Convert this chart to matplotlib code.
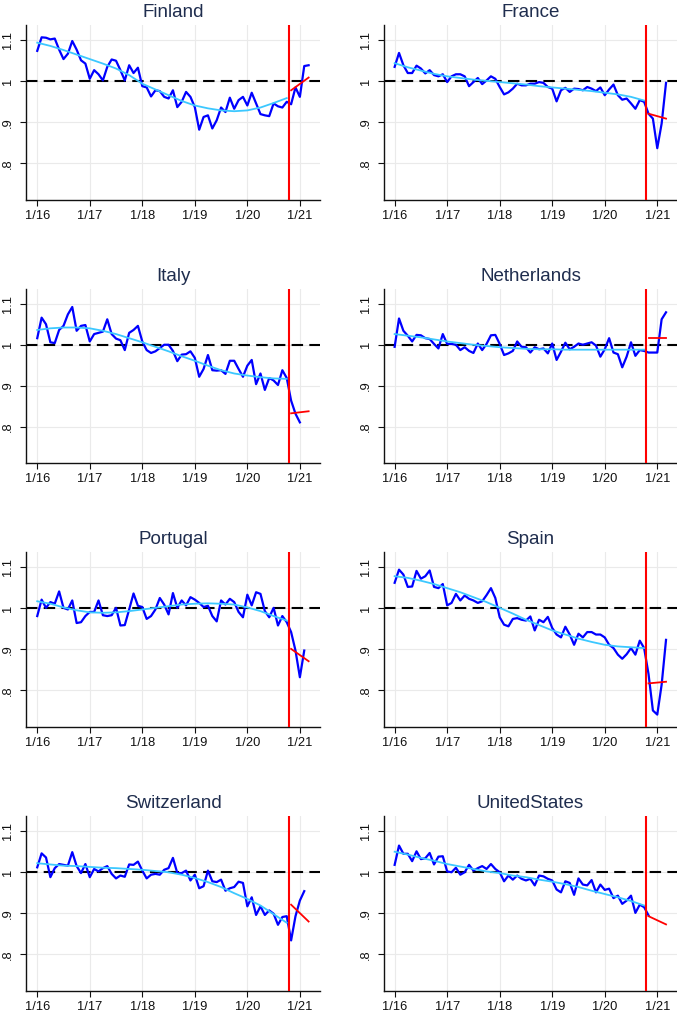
import numpy as np
import matplotlib
matplotlib.use("Agg")
import matplotlib.pyplot as plt

plt.rcParams['font.family'] = ['Liberation Sans', 'DejaVu Sans']

# monthly index, 0 = 1/2016
countries = ["Finland", "France", "Italy", "Netherlands",
             "Portugal", "Spain", "Switzerland", "UnitedStates"]

finland = [1.074, 1.107, 1.106, 1.102, 1.104, 1.077, 1.054, 1.067, 1.098, 1.077,
           1.051, 1.043, 1.006, 1.027, 1.017, 1.002, 1.035, 1.053, 1.050, 1.027,
           1.002, 1.039, 1.020, 1.033, 0.988, 0.985, 0.963, 0.978, 0.976, 0.962,
           0.958, 0.978, 0.937, 0.950, 0.974, 0.962, 0.937, 0.882, 0.913, 0.917,
           0.885, 0.905, 0.936, 0.925, 0.960, 0.933, 0.954, 0.962, 0.941, 0.972,
           0.946, 0.920, 0.917, 0.915, 0.946, 0.939, 0.936, 0.950, 0.944, 0.985,
           0.962, 1.037, 1.039]
france = [1.035, 1.069, 1.039, 1.020, 1.020, 1.038, 1.031, 1.019, 1.027, 1.015,
          1.012, 1.017, 0.998, 1.012, 1.017, 1.017, 1.012, 0.988, 0.998, 1.008,
          0.993, 1.002, 1.012, 1.006, 0.986, 0.968, 0.973, 0.982, 0.994, 0.990,
          0.990, 0.994, 0.994, 0.998, 0.996, 0.986, 0.982, 0.951, 0.978, 0.984,
          0.974, 0.982, 0.981, 0.978, 0.986, 0.982, 0.976, 0.985, 0.966, 0.980,
          0.992, 0.966, 0.955, 0.958, 0.946, 0.933, 0.954, 0.950, 0.921, 0.909,
          0.837, 0.897, 0.996]
italy = [1.016, 1.066, 1.050, 1.006, 1.004, 1.036, 1.046, 1.074, 1.092, 1.034,
         1.046, 1.048, 1.008, 1.026, 1.029, 1.032, 1.062, 1.026, 1.015, 1.011,
         0.987, 1.029, 1.036, 1.046, 1.008, 0.987, 0.980, 0.984, 0.992, 1.000,
         1.000, 0.985, 0.960, 0.976, 0.977, 0.984, 0.968, 0.922, 0.941, 0.975,
         0.938, 0.937, 0.938, 0.929, 0.961, 0.961, 0.941, 0.922, 0.949, 0.963,
         0.904, 0.930, 0.890, 0.919, 0.913, 0.902, 0.938, 0.919, 0.864, 0.832,
         0.811]
netherlands = [0.995, 1.064, 1.034, 1.022, 1.008, 1.024, 1.023, 1.016, 1.014, 1.002,
               0.991, 1.026, 1.002, 1.002, 1.000, 0.987, 0.994, 0.985, 0.980, 1.003,
               0.987, 1.002, 1.023, 1.024, 1.002, 0.975, 0.979, 0.985, 1.008, 0.995,
               0.994, 0.981, 0.994, 0.989, 0.991, 0.979, 1.003, 0.963, 0.983, 1.005,
               0.989, 0.995, 1.003, 1.000, 1.003, 1.006, 0.998, 0.971, 0.989, 1.016,
               0.981, 0.977, 0.945, 0.971, 1.006, 0.973, 0.987, 0.985, 0.981, 0.981,
               0.981, 1.062, 1.079]
portugal = [0.981, 1.021, 1.001, 1.015, 1.011, 1.041, 1.001, 0.997, 1.019, 0.964,
            0.966, 0.981, 0.991, 0.991, 1.019, 0.983, 0.981, 0.983, 1.001, 0.958,
            0.959, 0.997, 1.036, 1.006, 1.003, 0.974, 0.981, 0.997, 1.025, 1.009,
            0.985, 1.037, 1.001, 1.019, 1.007, 1.027, 1.021, 1.013, 1.003, 1.006,
            0.981, 0.968, 1.019, 1.009, 1.023, 1.015, 0.991, 0.978, 1.033, 1.007,
            1.039, 1.035, 0.993, 0.978, 1.001, 0.958, 0.981, 0.966, 0.942, 0.897,
            0.832, 0.897]
spain = [1.062, 1.094, 1.082, 1.052, 1.053, 1.091, 1.072, 1.078, 1.092, 1.052,
         1.049, 1.059, 1.007, 1.013, 1.035, 1.019, 1.031, 1.023, 1.019, 1.013,
         1.017, 1.032, 1.049, 1.025, 0.978, 0.960, 0.956, 0.974, 0.976, 0.972,
         0.970, 0.980, 0.946, 0.972, 0.966, 0.979, 0.952, 0.936, 0.929, 0.955,
         0.936, 0.911, 0.938, 0.929, 0.942, 0.942, 0.936, 0.936, 0.929, 0.911,
         0.903, 0.887, 0.877, 0.888, 0.903, 0.887, 0.921, 0.903, 0.840, 0.751,
         0.741, 0.814, 0.923]
switzerland = [1.012, 1.046, 1.036, 0.988, 1.010, 1.020, 1.018, 1.016, 1.049, 1.015,
               0.998, 1.020, 0.988, 1.008, 1.002, 1.010, 1.015, 0.996, 0.985, 0.992,
               0.989, 1.019, 1.018, 1.026, 1.004, 0.985, 0.994, 0.996, 0.994, 1.006,
               1.010, 1.035, 0.998, 0.998, 1.004, 0.980, 0.994, 0.961, 0.966, 1.004,
               0.978, 0.976, 0.982, 0.955, 0.961, 0.964, 0.977, 0.974, 0.917, 0.939,
               0.896, 0.917, 0.896, 0.907, 0.899, 0.872, 0.891, 0.893, 0.834, 0.893,
               0.931, 0.954]
usa = [1.018, 1.065, 1.045, 1.045, 1.027, 1.051, 1.032, 1.034, 1.047, 1.019,
       1.038, 1.039, 1.002, 1.000, 1.011, 0.994, 1.000, 1.018, 1.004, 1.010,
       1.015, 1.008, 1.020, 1.008, 1.000, 0.978, 0.992, 0.982, 0.992, 0.984,
       0.980, 0.984, 0.968, 0.992, 0.990, 0.984, 0.980, 0.958, 0.951, 0.978,
       0.974, 0.945, 0.985, 0.970, 0.968, 0.981, 0.951, 0.970, 0.957, 0.960,
       0.937, 0.943, 0.923, 0.931, 0.943, 0.901, 0.921, 0.915, 0.895]

# pre-period trend, read every 3 months (0, 3, ..., 57)
trend_months = list(range(0, 58, 3))
trend_finland = [1.094, 1.086, 1.076, 1.065, 1.054, 1.043, 1.031, 1.015, 0.994, 0.980,
                 0.966, 0.952, 0.941, 0.934, 0.929, 0.927, 0.929, 0.936, 0.947, 0.959]
trend_france = [1.044, 1.034, 1.026, 1.018, 1.012, 1.008, 1.004, 1.001, 0.998, 0.995,
                0.992, 0.988, 0.985, 0.982, 0.979, 0.976, 0.972, 0.968, 0.962, 0.953]
trend_italy = [1.036, 1.040, 1.042, 1.042, 1.040, 1.034, 1.026, 1.016, 1.006, 0.995,
               0.984, 0.972, 0.961, 0.949, 0.938, 0.930, 0.925, 0.921, 0.918, 0.917]
trend_netherlands = [1.026, 1.022, 1.018, 1.013, 1.008, 1.004, 1.000, 0.997, 0.994, 0.992,
                     0.990, 0.989, 0.989, 0.988, 0.988, 0.988, 0.988, 0.988, 0.988, 0.988]
trend_portugal = [1.017, 1.011, 1.002, 0.995, 0.990, 0.989, 0.990, 0.993, 0.997, 1.001,
                  1.005, 1.009, 1.011, 1.012, 1.011, 1.009, 1.002, 0.993, 0.981, 0.970]
trend_spain = [1.078, 1.074, 1.067, 1.059, 1.049, 1.039, 1.027, 1.015, 1.001, 0.987,
               0.972, 0.959, 0.946, 0.936, 0.926, 0.918, 0.911, 0.907, 0.905, 0.903]
trend_switzerland = [1.022, 1.019, 1.016, 1.015, 1.013, 1.011, 1.010, 1.008, 1.006, 1.003,
                     1.000, 0.994, 0.986, 0.976, 0.964, 0.949, 0.935, 0.919, 0.898, 0.877]
trend_usa = [1.050, 1.043, 1.035, 1.028, 1.020, 1.014, 1.008, 1.002, 0.998, 0.992,
             0.988, 0.982, 0.977, 0.971, 0.964, 0.955, 0.947, 0.939, 0.930, 0.919]

# post-period line: months 58 -> 62
post_months = [58, 62]
post_finland = [0.978, 1.009]
post_france = [0.921, 0.909]
post_italy = [0.833, 0.838]
post_netherlands = [1.016, 1.016]
post_portugal = [0.901, 0.871]
post_spain = [0.817, 0.821]
post_switzerland = [0.921, 0.880]
post_usa = [0.893, 0.873]

series = [finland, france, italy, netherlands, portugal, spain, switzerland, usa]
trends = [trend_finland, trend_france, trend_italy, trend_netherlands,
          trend_portugal, trend_spain, trend_switzerland, trend_usa]
posts = [post_finland, post_france, post_italy, post_netherlands,
         post_portugal, post_spain, post_switzerland, post_usa]

xtick_pos = [0, 12, 24, 36, 48, 60]
xtick_lab = ["1/16", "1/17", "1/18", "1/19", "1/20", "1/21"]
ytick_pos = [0.8, 0.9, 1.0, 1.1]
ytick_lab = [".8", ".9", "1", "1.1"]
break_month = 57.5

W, H = 677, 1015
fig = plt.figure(figsize=(W / 100, H / 100), dpi=100)

col_left = [26.3, 383.7]
row_top = [25, 288.5, 552, 816]
ax_w, ax_h = 293.7, 174.5

for i, name in enumerate(countries):
    r, c = divmod(i, 2)
    x0 = col_left[c]
    y0 = row_top[r]
    ax = fig.add_axes([x0 / W, 1 - (y0 + ax_h) / H, ax_w / W, ax_h / H])

    ax.set_xlim(-2.5, 64.6)
    ax.set_ylim(0.712, 1.137)
    ax.set_xticks(xtick_pos)
    ax.set_xticklabels(xtick_lab)
    ax.set_yticks(ytick_pos)
    ax.set_yticklabels(ytick_lab, rotation=90, va='center')
    ax.grid(True, color='#eaeaea', lw=0.8, zorder=0)
    ax.set_axisbelow(True)

    for s in ['top', 'right']:
        ax.spines[s].set_visible(False)
    for s in ['left', 'bottom']:
        ax.spines[s].set_linewidth(1.0)
        ax.spines[s].set_color('#111111')
    ax.tick_params(axis='x', length=4.2, width=0.8, pad=3, labelsize=9.3, colors='#111111')
    ax.tick_params(axis='y', length=4.3, width=0.8, pad=4.3, labelsize=9.3, colors='#111111')

    vals = series[i]
    ax.axhline(1, color='black', lw=1.5, dashes=(5.5, 3), zorder=2)
    ax.plot(range(len(vals)), vals, color='#0000ff', lw=1.6, zorder=4)
    ax.plot(trend_months, trends[i], color='#3cc8ff', lw=1.3, zorder=5)
    ax.plot(post_months, posts[i], color='#ff0000', lw=1.3, zorder=5)
    ax.axvline(break_month, color='#ff0000', lw=1.5, zorder=6)

    ax.set_title(name, fontsize=13.5, color='#1f2d4e', pad=5.5)

fig.savefig("out.png", dpi=100)
